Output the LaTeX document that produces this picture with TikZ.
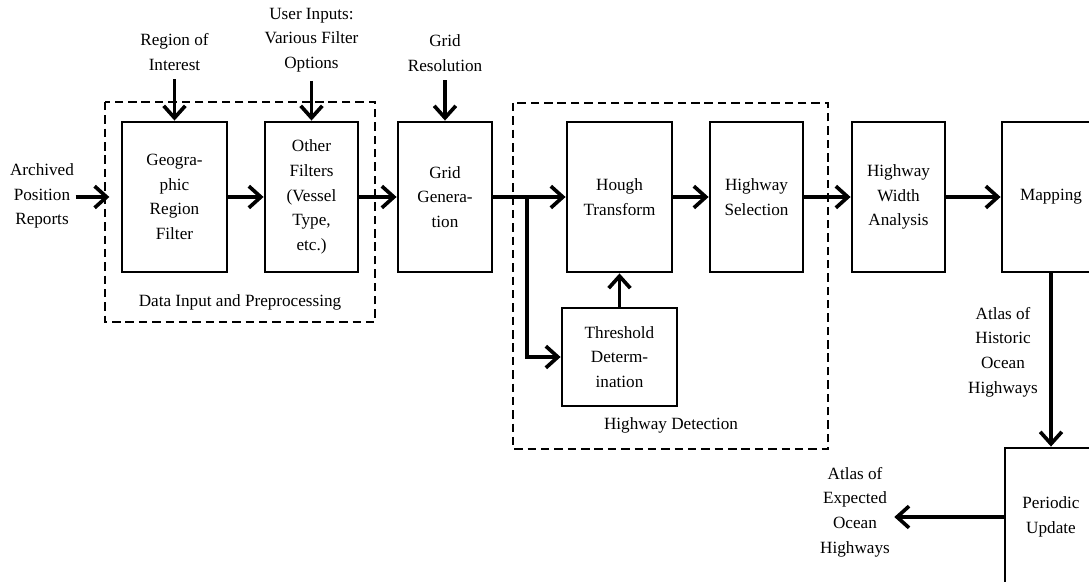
\documentclass[tikz,border=0pt]{standalone}
\usepackage{fontspec}
\setmainfont{Liberation Serif}
\usetikzlibrary{arrows.meta}

\tikzset{
  blockbox/.style={draw,line width=2pt,align=center,inner sep=2pt},
  plaintext/.style={align=center,inner sep=1pt},
  flow/.style={line width=2.6pt,-{Straight Barb[length=3mm,width=5.4mm]}},
  groupbox/.style={line width=1.6pt,dash pattern=on 6pt off 3.5pt}
}

\begin{document}
\begin{tikzpicture}[x=0.025cm,y=-0.025cm,
  every node/.style={font=\fontsize{12.2}{17.5}\selectfont}]

\useasboundingbox (0,0) rectangle (1089,582);
\clip (0,0) rectangle (1089,582);

% groups
\draw [groupbox] (105,102) rectangle (375,322);
\draw [groupbox] (513,103) rectangle (828,449);

\node [plaintext] (prep) at (240,302) {Data Input and Preprocessing};
\node [plaintext] (detect) at (671,425) {Highway Detection};

% blocks
\node [blockbox,minimum width=2.625cm,minimum height=3.75cm] (geo) at (174.5,197) {Geogra-\\phic\\Region\\Filter};
\node [blockbox,minimum width=2.325cm,minimum height=3.75cm] (other) at (311.5,197) {Other\\Filters\\(Vessel\\Type,\\etc.)};
\node [blockbox,minimum width=2.35cm,minimum height=3.75cm] (grid) at (445,197) {Grid\\Genera-\\tion};
\node [blockbox,minimum width=2.625cm,minimum height=3.75cm] (hough) at (619.5,197) {Hough\\Transform};
\node [blockbox,minimum width=2.325cm,minimum height=3.75cm] (select) at (756.5,197) {Highway\\Selection};
\node [blockbox,minimum width=2.875cm,minimum height=2.45cm] (thresh) at (619.5,357) {Threshold\\Determ-\\ination};
\node [blockbox,minimum width=2.325cm,minimum height=3.75cm] (width) at (898.5,197) {Highway\\Width\\Analysis};
\node [blockbox,minimum width=2.45cm,minimum height=3.75cm] (mapping) at (1051,197) {Mapping};
\node [blockbox,minimum width=2.3cm,minimum height=3.45cm] (update) at (1051,517) {Periodic\\Update};

% inputs and outputs
\node [plaintext] (reports) at (42,196) {Archived\\Position\\Reports};
\node [plaintext] (roi) at (174.5,52) {Region of\\Interest};
\node [plaintext] (user) at (311.5,40) {User Inputs:\\Various Filter\\Options};
\node [plaintext] (res) at (445,53) {Grid\\Resolution};
\node [plaintext] (historic) at (1003,352) {Atlas of\\Historic\\Ocean\\Highways};
\node [plaintext] (expected) at (855,512) {Atlas of\\Expected\\Ocean\\Highways};

\coordinate (split) at (527,197);

% connectors
\draw [flow,shorten >=8pt] (reports.east |- geo.west) -- (geo.west);
\draw [flow,shorten <=5pt] (roi.south) -- (geo.north);
\draw [flow,shorten <=5pt] (user.south) -- (other.north);
\draw [flow,shorten <=5pt] (res.south) -- (grid.north);
\draw [flow] (geo.east) -- (other.west);
\draw [flow] (other.east) -- (grid.west);
\draw [flow] (grid.east) -- (hough.west);
\draw [flow] (split) |- (thresh.west);
\draw [flow] (thresh.north) -- (hough.south);
\draw [flow] (hough.east) -- (select.west);
\draw [flow] (select.east) -- (width.west);
\draw [flow] (width.east) -- (mapping.west);
\draw [flow] (mapping.south) -- (update.north);
\draw [flow,shorten >=2pt] (update.west) -- (expected.east |- update.west);

\end{tikzpicture}
\end{document}
